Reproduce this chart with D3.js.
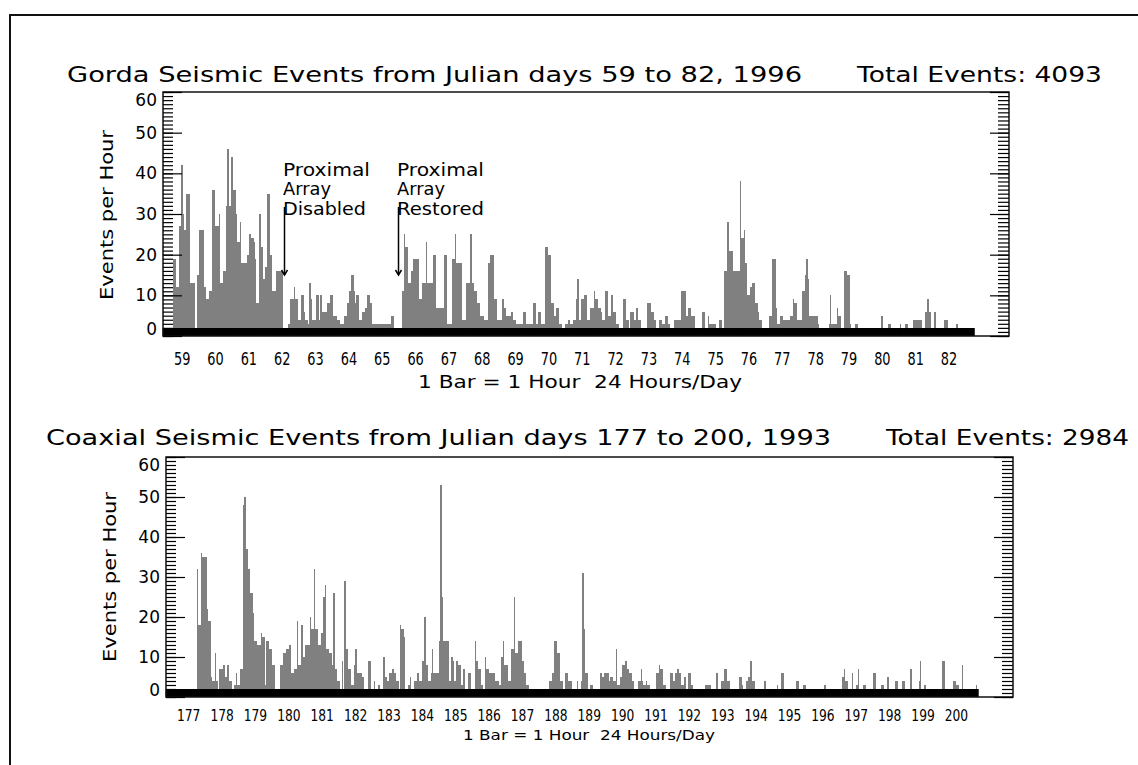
<!DOCTYPE html>
<html>
<head>
<meta charset="utf-8">
<script src="https://cdn.jsdelivr.net/npm/d3@7"></script>
<style>
  html, body { margin: 0; padding: 0; background: #fff; }
  svg { display: block; }
  text { font-family: "DejaVu Sans", sans-serif; fill: #000; white-space: pre; }
</style>
</head>
<body>
<svg id="chart" width="1138" height="765"></svg>
<script>
// ---- Data -----------------------------------------------------------------
// Julian days covered by each record
const gordaDays = d3.range(59, 83);
const coaxialDays = d3.range(177, 201);

// Events per hour, one row of 24 hourly counts per day (Gorda, 1996)
const gordaCounts = [
  19,19,12,12,27,27,42,30,26,35,35,35,13,13,13,13,0,15,15,26,26,26,12,12,
  9,9,11,11,36,36,27,27,27,30,13,13,16,16,32,46,32,32,44,36,36,30,23,23,
  28,18,18,18,18,20,20,25,24,24,23,19,8,8,30,22,22,14,17,17,35,35,20,11,
  11,11,16,16,16,16,16,0,0,0,0,3,9,9,9,12,9,9,4,4,10,10,6,4,
  4,3,13,9,4,4,4,10,10,4,10,6,6,6,6,8,8,10,10,5,5,5,4,4,
  3,3,3,5,5,8,8,11,15,15,11,8,10,10,4,4,6,6,7,7,10,10,8,3,
  3,3,3,3,3,3,3,3,3,3,3,3,3,5,5,2,0,0,0,0,0,11,25,22,
  22,13,13,16,16,19,19,19,19,9,9,13,13,13,23,13,13,13,13,20,20,7,7,7,
  7,7,7,20,20,3,3,3,3,19,19,25,18,18,18,18,4,4,4,13,13,13,25,13,
  13,11,11,8,8,5,5,5,4,4,4,18,20,20,20,9,9,4,4,4,4,9,7,7,
  5,5,5,6,6,4,4,3,3,3,3,3,6,6,3,3,3,3,3,8,8,3,3,6,
  6,3,3,3,22,22,20,20,8,8,5,5,7,7,3,3,2,2,3,3,4,4,3,3,
  4,4,9,14,4,4,9,9,10,10,4,4,7,7,7,11,9,9,7,7,6,4,4,11,
  11,5,5,10,10,6,6,3,3,2,2,2,9,9,4,4,2,6,6,6,4,7,7,4,
  4,2,2,2,2,8,8,8,6,6,4,4,2,2,4,4,3,3,5,5,3,3,2,2,
  2,4,4,4,4,4,11,11,11,5,5,7,7,5,5,5,2,2,2,2,2,6,6,2,
  2,5,3,3,3,3,3,2,2,4,4,2,2,16,16,28,21,21,21,16,16,16,16,16,
  38,24,24,26,18,10,10,12,12,13,13,8,8,6,4,4,2,2,1,1,1,5,5,19,
  19,19,7,3,3,5,5,4,4,4,4,4,5,5,9,8,8,4,4,4,4,11,11,15,
  19,14,5,5,5,5,5,5,3,0,0,0,0,0,0,0,3,10,3,3,3,3,7,5,
  5,2,2,16,16,15,15,3,1,1,1,3,3,0,0,0,0,0,0,0,0,0,0,0,
  0,0,0,0,0,0,5,1,1,1,1,3,3,2,2,2,1,1,1,3,1,1,1,3,
  3,1,1,1,1,4,4,4,4,4,4,1,1,6,6,9,6,6,1,1,6,1,1,1,
  1,1,1,4,4,4,1,1,1,2,1,1,3,1,1,1,1,1,1,1,1,1,1,1
];

// Events per hour, one row of 24 hourly counts per day (CoAxial, 1993)
const coaxialCounts = [
  0,0,0,0,0,0,0,0,0,0,0,0,0,0,0,32,18,18,36,35,35,35,22,19,
  19,5,4,4,11,4,2,7,7,7,8,5,5,8,4,4,2,2,3,6,3,3,7,7,
  48,50,37,37,32,26,26,21,14,14,13,13,13,16,15,15,3,14,14,12,12,8,8,2,
  1,1,1,8,8,11,11,12,12,13,13,6,6,7,7,19,8,8,18,10,10,13,13,13,
  20,17,17,32,17,17,13,13,16,16,25,28,12,12,11,11,8,26,7,7,4,4,2,9,
  2,29,12,12,7,7,3,3,8,12,6,6,6,6,5,2,2,2,9,9,2,2,4,2,
  2,3,3,0,0,10,5,5,4,6,6,7,7,6,4,4,1,18,17,17,15,2,2,3,
  5,2,2,4,4,6,6,4,4,9,20,20,8,4,4,6,12,6,6,6,6,14,53,25,
  14,14,14,14,4,4,10,9,4,9,9,8,8,3,7,7,2,2,6,6,1,1,1,14,
  9,7,7,3,3,1,10,7,7,6,6,6,6,4,4,4,3,3,10,14,8,8,8,4,
  4,12,12,25,11,11,14,14,14,9,6,6,3,3,2,2,1,1,0,0,0,0,1,1,
  1,1,1,1,4,4,6,6,14,14,11,11,4,4,2,2,6,6,4,4,4,2,2,2,
  4,2,2,4,31,17,6,6,1,1,3,3,2,2,2,0,0,6,5,5,6,6,6,4,
  5,5,4,4,12,3,3,5,5,8,8,9,7,7,6,6,4,2,2,2,4,4,7,4,
  3,3,4,3,3,2,2,1,1,6,6,8,7,7,3,3,2,0,0,6,6,4,4,6,
  7,7,6,3,3,5,5,2,6,6,3,3,1,1,1,0,0,0,0,0,3,3,3,3,
  3,1,0,0,6,6,2,2,4,4,7,7,4,4,1,1,0,0,0,0,0,5,5,3,
  2,2,4,5,5,9,4,4,1,1,0,0,0,0,0,4,2,2,2,2,2,2,2,2,
  3,2,2,6,6,1,1,2,2,2,2,2,2,1,4,4,1,1,2,3,3,1,1,1,
  1,1,2,2,2,2,2,2,2,2,3,1,1,1,1,1,1,1,1,1,1,1,1,5,
  7,4,4,2,2,2,6,2,1,3,7,2,2,2,3,3,1,1,1,2,2,6,6,1,
  1,1,1,3,3,1,1,5,5,1,1,1,1,4,4,2,2,1,4,4,1,1,1,1,
  7,1,1,1,1,1,4,9,2,2,3,2,2,2,1,1,1,1,1,1,1,1,1,9,
  9,1,1,1,1,1,1,4,4,3,3,2,2,8,2,2,2,2,2,2,1,1,1,3
];

// Y axis labels and the event-count range
const yLabels = [0, 10, 20, 30, 40, 50, 60];
const yMax = 60;
const hoursPerDay = 24;

// Annotations on the Gorda record: hour index of the arrow and the value it points to
const gordaNotes = [
  { lines: ["Proximal", "Array", "Disabled"], widths: [87, 48, 83], hour: 80, tip: 15 },
  { lines: ["Proximal", "Array", "Restored"], widths: [87, 48, 87], hour: 162, tip: 15 }
];

// ---- Layout ---------------------------------------------------------------
const svg = d3.select("#chart");

// page frame
svg.append("path")
  .attr("d", "M10,770 L10,15 L1145,15")
  .attr("fill", "none")
  .attr("stroke", "#111")
  .attr("stroke-width", 2);

const panels = [
  {
    title: "Gorda Seismic Events from Julian days 59 to 82, 1996",
    total: "Total Events: 4093",
    days: gordaDays,
    counts: gordaCounts,
    notes: gordaNotes,
    box: { l: 163, r: 1009, t: 92, b: 336 },
    titleX: 67, titleW: 735, totalX: 857, totalW: 245, titleY: 82, titleSize: 22,
    dayY: 365, daySize: 17, dayW: 8.2,
    footX: 418, footW: 324, footY: 388, footSize: 17,
    yTitleX: 113, yTitleC: 215, yTitleW: 170
  },
  {
    title: "Coaxial Seismic Events from Julian days 177 to 200, 1993",
    total: "Total Events: 2984",
    days: coaxialDays,
    counts: coaxialCounts,
    notes: [],
    box: { l: 166, r: 1013, t: 457, b: 697 },
    titleX: 46, titleW: 785, totalX: 886, totalW: 243, titleY: 445, titleSize: 22,
    dayY: 721, daySize: 15, dayW: 7.8,
    footX: 463, footW: 252, footY: 740, footSize: 14,
    yTitleX: 116, yTitleC: 577, yTitleW: 170
  }
];

function drawPanel(p) {
  const { l, r, t, b } = p.box;
  const nHours = p.counts.length;
  const x = d3.scaleLinear().domain([-7.2, 601.8]).range([l, r]);
  const y = d3.scaleLinear().domain([0, yMax]).range([b, t]);
  const g = svg.append("g");

  // hourly bars
  g.append("g").selectAll("rect")
    .data(p.counts)
    .join("rect")
    .attr("x", (d, i) => Math.round(x(i)))
    .attr("width", (d, i) => Math.round(x(i + 1)) - Math.round(x(i)))
    .attr("y", d => y(d))
    .attr("height", d => y(0) - y(d))
    .attr("fill", "#808080")
    .attr("shape-rendering", "crispEdges");

  // hourly tick marks along the bottom axis (dense enough to form a solid strip)
  const hourAxis = d3.axisBottom(x)
    .tickValues(d3.range(-7, nHours + 1))
    .tickSize(-8)
    .tickFormat("");
  g.append("g")
    .attr("transform", `translate(0,${b})`)
    .call(hourAxis)
    .call(a => a.select(".domain").remove())
    .call(a => a.selectAll("line").attr("stroke", "#000").attr("stroke-width", 2.2));

  // plot frame
  g.append("rect")
    .attr("x", l).attr("y", t)
    .attr("width", r - l).attr("height", b - t)
    .attr("fill", "none")
    .attr("stroke", "#111")
    .attr("stroke-width", 1.5);

  // y axes: minor ticks every event, major every 10, on both sides
  const minor = d3.range(0, yMax + 1);
  const addY = (axisFn, xPos, vals, size) => {
    g.append("g")
      .attr("transform", `translate(${xPos},0)`)
      .call(axisFn(y).tickValues(vals).tickSize(size).tickFormat(""))
      .call(a => a.select(".domain").remove())
      .call(a => a.selectAll("line").attr("stroke", "#000").attr("stroke-width", 1.2));
  };
  addY(d3.axisRight, l, minor, 10);
  addY(d3.axisRight, l, yLabels, 19);
  addY(d3.axisLeft, r, minor, 11);
  addY(d3.axisLeft, r, yLabels, 19);

  // y tick labels, the end labels kept inside the frame height
  g.selectAll("text.ylab")
    .data(yLabels)
    .join("text")
    .attr("class", "ylab")
    .attr("x", l - 6)
    .attr("y", d => Math.min(b - 7, Math.max(t + 8, y(d))))
    .attr("dy", "0.36em")
    .attr("text-anchor", "end")
    .attr("font-size", 17)
    .text(d => d);

  // y axis title
  g.append("text")
    .attr("transform", `translate(${p.yTitleX},${p.yTitleC}) rotate(-90)`)
    .attr("text-anchor", "middle")
    .attr("font-size", 17)
    .attr("textLength", p.yTitleW)
    .attr("lengthAdjust", "spacingAndGlyphs")
    .text("Events per Hour");

  // day labels at the start of each day
  g.selectAll("text.day")
    .data(p.days)
    .join("text")
    .attr("class", "day")
    .attr("x", (d, i) => x(i * hoursPerDay) + 1)
    .attr("y", p.dayY)
    .attr("font-size", p.daySize)
    .attr("textLength", d => String(d).length * p.dayW)
    .attr("lengthAdjust", "spacingAndGlyphs")
    .text(d => d);

  // footer
  g.append("text")
    .attr("x", p.footX).attr("y", p.footY)
    .attr("font-size", p.footSize)
    .attr("textLength", p.footW)
    .attr("lengthAdjust", "spacingAndGlyphs")
    .text("1 Bar = 1 Hour  24 Hours/Day");

  // titles
  g.append("text")
    .attr("x", p.titleX).attr("y", p.titleY)
    .attr("font-size", p.titleSize)
    .attr("textLength", p.titleW)
    .attr("lengthAdjust", "spacingAndGlyphs")
    .text(p.title);
  g.append("text")
    .attr("x", p.totalX).attr("y", p.titleY)
    .attr("font-size", p.titleSize)
    .attr("textLength", p.totalW)
    .attr("lengthAdjust", "spacingAndGlyphs")
    .text(p.total);

  // annotations with arrows
  p.notes.forEach(n => {
    const ax = Math.round(x(n.hour)) + 0.5;
    const top = 215;
    const tipY = y(n.tip);
    const baselines = [top - 39, top - 20, top];
    n.lines.forEach((s, k) => {
      g.append("text")
        .attr("x", ax - 1.5)
        .attr("y", baselines[k])
        .attr("font-size", 17)
        .attr("textLength", n.widths[k])
        .attr("lengthAdjust", "spacingAndGlyphs")
        .text(s);
    });
    g.append("line")
      .attr("x1", ax).attr("x2", ax)
      .attr("y1", top - 8).attr("y2", tipY)
      .attr("stroke", "#000").attr("stroke-width", 1.5);
    g.append("path")
      .attr("d", `M${ax - 3},${tipY - 5} L${ax},${tipY} L${ax + 3},${tipY - 5}`)
      .attr("fill", "none")
      .attr("stroke", "#000").attr("stroke-width", 1.5);
  });
}

panels.forEach(drawPanel);
</script>
</body>
</html>
